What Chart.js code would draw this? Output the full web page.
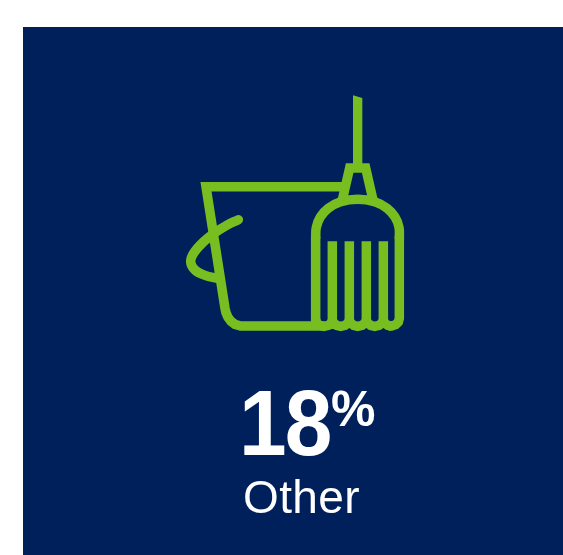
<!DOCTYPE html>
<html>
<head>
<meta charset="utf-8">
<title>Other 18%</title>
<script src="https://cdn.jsdelivr.net/npm/chart.js@4"></script>
<style>
  html, body { margin: 0; padding: 0; background: #fff; width: 563px; height: 555px; overflow: hidden; }
  #panel { position: absolute; left: 23px; top: 27px; width: 540px; height: 528px; background: #00205b; }
  #icon { position: absolute; left: 0; top: 0; }
  .txt { position: absolute; color: #fff; font-family: "Liberation Sans", Arial, sans-serif; white-space: nowrap; line-height: 1; }
  #value { left: 239px; top: 377px; font-size: 93px; font-weight: 700; letter-spacing: -2px; transform: scaleX(0.92); transform-origin: left top; }
  #unit { left: 331px; top: 384px; font-size: 50px; font-weight: 700; }
  #name { left: 243px; top: 474px; font-size: 46px; font-weight: 400; letter-spacing: 0.4px; }
</style>
</head>
<body>
<div id="panel"></div>
<canvas id="icon" width="563" height="555"></canvas>
<div class="txt" id="value"></div>
<div class="txt" id="unit"></div>
<div class="txt" id="name"></div>
<script>
// Headline figure and its caption
const shareValue = 18;
const shareUnit = '%';
const shareName = 'Other';

const iconGreen = '#78be20';
const strokeWidth = 9.5;

// Bucket and broom outline, in icon units (three units to one pixel)
const broomStick = [[549, 16], [577, 24], [577, 228], [549, 228]];
const ferrule = [[517, 330], [539, 234], [587, 234], [609, 330]];
const brushDome = [[437, 445], [439, 412], [451, 381], [475, 355], [510, 336], [563, 328], [616, 336], [651, 355], [675, 381], [687, 412], [688, 445]];
const brushLeft = [[437, 440], [437, 695]];
const brushRight = [[688, 440], [688, 685], [685, 696], [677, 704], [665, 708], [655, 708]];
const fingerOne = [[487, 454], [487, 695]];
const fingerTwo = [[538, 454], [538, 695]];
const fingerThree = [[589, 454], [589, 695]];
const fingerFour = [[640, 454], [640, 695]];
const brushFringe = [
  [437, 690], [441, 700], [449, 706], [462, 709], [475, 706], [483, 700], [487, 692],
  [492, 700], [500, 706], [512, 709], [525, 706], [533, 700], [538, 692],
  [543, 700], [551, 706], [563, 709], [576, 706], [584, 700], [589, 692],
  [594, 700], [602, 706], [614, 709], [627, 706], [635, 700], [640, 692],
  [645, 700], [653, 706], [665, 708]
];
const bucketBody = [[516, 290], [108, 290], [165, 655], [168, 668], [174, 682], [183, 694], [195, 703], [212, 708], [462, 708]];
const bucketHandle = [[205, 389], [170, 406], [135, 428], [100, 456], [72, 488], [62, 515], [75, 540], [105, 556], [142, 565]];

const toPoints = list => list.map(([x, y]) => ({ x, y }));

const stroke = (list, extra) => Object.assign({
  data: toPoints(list),
  showLine: true,
  pointRadius: 0,
  borderColor: iconGreen,
  backgroundColor: iconGreen,
  borderWidth: strokeWidth,
  borderJoinStyle: 'miter',
  borderCapStyle: 'butt',
  tension: 0,
  fill: false,
  clip: false
}, extra || {});

new Chart(document.getElementById('icon'), {
  type: 'scatter',
  data: {
    datasets: [
      stroke(bucketHandle, { tension: 0.4, borderCapStyle: 'round' }),
      stroke(bucketBody),
      stroke(broomStick, { fill: 'shape', borderWidth: 0 }),
      stroke(ferrule),
      stroke(brushDome, { tension: 0.4 }),
      stroke(brushLeft),
      stroke(brushRight),
      stroke(fingerOne),
      stroke(fingerTwo),
      stroke(fingerThree),
      stroke(fingerFour),
      stroke(brushFringe)
    ]
  },
  options: {
    responsive: false,
    animation: false,
    events: [],
    layout: { padding: 0 },
    plugins: { legend: { display: false }, tooltip: { enabled: false }, title: { display: false } },
    scales: {
      x: { type: 'linear', display: false, min: -510, max: 1179 },
      y: { type: 'linear', display: false, min: -270, max: 1395, reverse: true }
    }
  }
});

document.getElementById('value').textContent = String(shareValue);
document.getElementById('unit').textContent = shareUnit;
document.getElementById('name').textContent = shareName;
</script>
</body>
</html>
